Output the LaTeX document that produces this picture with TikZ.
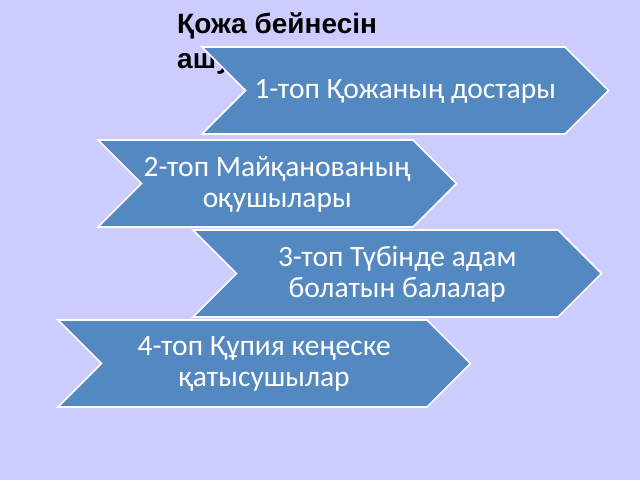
\documentclass[tikz,border=0pt]{standalone}
\usepackage{fontspec}
\setmainfont{Carlito}
\newfontfamily\titlefont{Liberation Sans}
\definecolor{bgcol}{RGB}{204,204,255}
\definecolor{chevfill}{RGB}{84,136,192}
\tikzset{
  chevshape/.style={fill=chevfill,draw=white,line width=1.6pt,line join=miter},
  chevtext/.style={text=white,font=\fontsize{29.5}{31}\selectfont,align=center,inner sep=0pt},
  titletext/.style={font=\titlefont\bfseries\fontsize{28}{35}\selectfont,align=left,inner sep=0pt,anchor=base west}
}
\newcommand{\mychev}[5]{% name, L, T, R, text
  \fill[chevshape] (#2,#3) -- (#4,#3) -- (#4+43.5,#3+43.5) -- (#4,#3+87) -- (#2,#3+87) -- (#2+43.5,#3+43.5) -- cycle;
  \node[chevtext] (#1) at ({(#2+43.5+#4)/2},#3+44) {#5};
}
\begin{document}
\begin{tikzpicture}[x=1pt,y=-1pt]
\useasboundingbox (0,0) rectangle (640,480);
\fill[bgcol] (0,0) rectangle (640,480);
\node[titletext] (title) at (177,68) {Қожа бейнесін\\ашу};
\mychev{g1}{202}{47}{565}{1-топ Қожаның достары}
\mychev{g2}{98}{140}{413}{2-топ Майқанованың\\оқушылары}
\mychev{g3}{193}{230}{558}{3-топ Түбінде адам\\болатын балалар}
\mychev{g4}{58}{320}{427}{4-топ Құпия кеңеске\\қатысушылар}
\end{tikzpicture}
\end{document}
